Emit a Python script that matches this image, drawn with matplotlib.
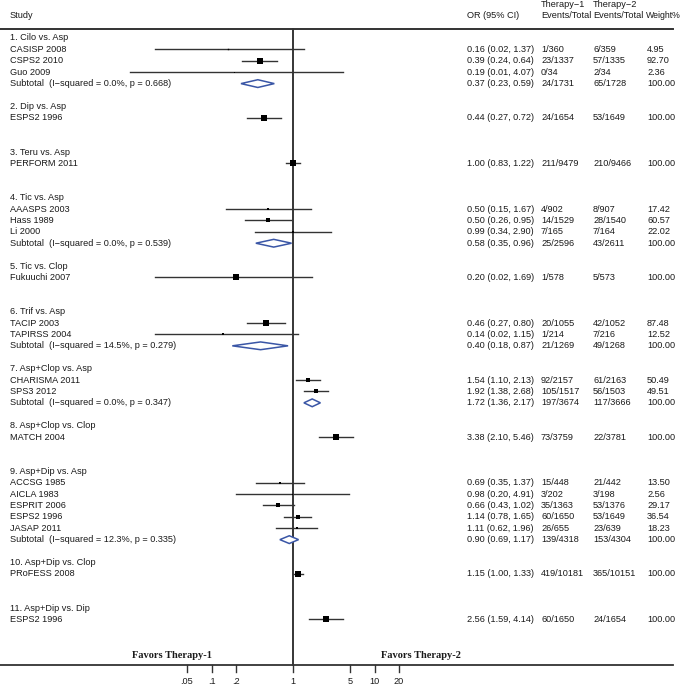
import numpy as np
import matplotlib
matplotlib.use("Agg")
import matplotlib.pyplot as plt

plt.rcParams['font.family'] = ['Liberation Sans', 'DejaVu Sans']

# ---- data ----
groups = ["1. Cilo vs. Asp", "2. Dip vs. Asp", "3. Teru vs. Asp", "4. Tic vs. Asp",
          "5. Tic vs. Clop", "6. Trif vs. Asp", "7. Asp+Clop vs. Asp",
          "8. Asp+Clop vs. Clop", "9. Asp+Dip vs. Asp", "10. Asp+Dip vs. Clop",
          "11. Asp+Dip vs. Dip"]

# study name, group index
studies = ["CASISP 2008", "CSPS2 2010", "Guo 2009",
           "ESPS2 1996",
           "PERFORM 2011",
           "AAASPS 2003", "Hass 1989", "Li 2000",
           "Fukuuchi 2007",
           "TACIP 2003", "TAPIRSS 2004",
           "CHARISMA 2011", "SPS3 2012",
           "MATCH 2004",
           "ACCSG 1985", "AICLA 1983", "ESPRIT 2006", "ESPS2 1996", "JASAP 2011",
           "PRoFESS 2008",
           "ESPS2 1996"]
study_group = [0, 0, 0, 1, 2, 3, 3, 3, 4, 5, 5, 6, 6, 7, 8, 8, 8, 8, 8, 9, 10]
or_est = [0.16, 0.39, 0.19, 0.44, 1.00, 0.50, 0.50, 0.99, 0.20, 0.46, 0.14,
          1.54, 1.92, 3.38, 0.69, 0.98, 0.66, 1.14, 1.11, 1.15, 2.56]
or_lo = [0.02, 0.24, 0.01, 0.27, 0.83, 0.15, 0.26, 0.34, 0.02, 0.27, 0.02,
         1.10, 1.38, 2.10, 0.35, 0.20, 0.43, 0.78, 0.62, 1.00, 1.59]
or_hi = [1.37, 0.64, 4.07, 0.72, 1.22, 1.67, 0.95, 2.90, 1.69, 0.80, 1.15,
         2.13, 2.68, 5.46, 1.37, 4.91, 1.02, 1.65, 1.96, 1.33, 4.14]
ev1 = ["1/360", "23/1337", "0/34", "24/1654", "211/9479", "4/902", "14/1529",
       "7/165", "1/578", "20/1055", "1/214", "92/2157", "105/1517", "73/3759",
       "15/448", "3/202", "35/1363", "60/1650", "26/655", "419/10181", "60/1650"]
ev2 = ["6/359", "57/1335", "2/34", "53/1649", "210/9466", "8/907", "28/1540",
       "7/164", "5/573", "42/1052", "7/216", "61/2163", "56/1503", "22/3781",
       "21/442", "3/198", "53/1376", "53/1649", "23/639", "365/10151", "24/1654"]
weight = [4.95, 92.70, 2.36, 100.00, 100.00, 17.42, 60.57, 22.02, 100.00,
          87.48, 12.52, 50.49, 49.51, 100.00, 13.50, 2.56, 29.17, 36.54, 18.23,
          100.00, 100.00]

# subtotals (group index)
sub_group = [0, 3, 5, 6, 8]
sub_label = ["Subtotal  (I\u2212squared = 0.0%, p = 0.668)",
             "Subtotal  (I\u2212squared = 0.0%, p = 0.539)",
             "Subtotal  (I\u2212squared = 14.5%, p = 0.279)",
             "Subtotal  (I\u2212squared = 0.0%, p = 0.347)",
             "Subtotal  (I\u2212squared = 12.3%, p = 0.335)"]
sub_est = [0.37, 0.58, 0.40, 1.72, 0.90]
sub_lo = [0.23, 0.35, 0.18, 1.36, 0.69]
sub_hi = [0.59, 0.96, 0.87, 2.17, 1.17]
sub_ev1 = ["24/1731", "25/2596", "21/1269", "197/3674", "139/4318"]
sub_ev2 = ["65/1728", "43/2611", "49/1268", "117/3666", "153/4304"]

ticks = [0.05, 0.1, 0.2, 1, 5, 10, 20]
tick_labels = [".05", ".1", ".2", "1", "5", "10", "20"]

# ---- layout helpers (pixel based) ----
W, H = 682, 685
X0, PX_DEC = 293, 81.5
def px(p):
    return 10 ** ((p - X0) / PX_DEC)

fig = plt.figure(figsize=(W / 100, H / 100), dpi=100)
ax = fig.add_axes([0, 0, 1, 1])
ax.set_xscale('log')
ax.set_xlim(px(0), px(W))
ax.set_ylim(56.75, -3.333)
ax.axis('off')

fs = 6.6
tc = '#1a1a1a'
blue = '#3a56a6'

# assign rows
row = 0
study_row, sub_row, grp_row = {}, {}, {}
for g in range(len(groups)):
    grp_row[g] = row
    row += 1
    for i, sg in enumerate(study_group):
        if sg == g:
            study_row[i] = row
            row += 1
    if g in sub_group:
        sub_row[sub_group.index(g)] = row
    row += 2

def cols(y, a, b, c, d):
    ax.text(px(467), y, a, fontsize=fs, color=tc, va='center')
    ax.text(px(541), y, b, fontsize=fs, color=tc, va='center')
    ax.text(px(593), y, c, fontsize=fs, color=tc, va='center')
    ax.text(px(647), y, d, fontsize=fs, color=tc, va='center')

for g, r in grp_row.items():
    ax.text(px(9.5), r, groups[g], fontsize=fs, color=tc, va='center')

for i, r in study_row.items():
    ax.text(px(9.5), r, studies[i], fontsize=fs, color=tc, va='center')
    ax.plot([or_lo[i], or_hi[i]], [r, r], color='#333333', lw=1.0, zorder=2)
    ms = 4.6 * np.sqrt(weight[i] / 100)
    ax.plot(or_est[i], r, marker='s', ms=ms, color='black', mew=0, zorder=3)
    cols(r, "%.2f (%.2f, %.2f)" % (or_est[i], or_lo[i], or_hi[i]),
         ev1[i], ev2[i], "%.2f" % weight[i])

for k, r in sub_row.items():
    ax.text(px(9.5), r, sub_label[k], fontsize=fs, color=tc, va='center')
    h = 0.34
    ax.fill([sub_lo[k], sub_est[k], sub_hi[k], sub_est[k]],
            [r, r - h, r, r + h], facecolor='white', edgecolor=blue,
            lw=1.1, zorder=3)
    cols(r, "%.2f (%.2f, %.2f)" % (sub_est[k], sub_lo[k], sub_hi[k]),
         sub_ev1[k], sub_ev2[k], "100.00")

# null line, header line, axis line
ax.plot([1, 1], [-0.79, 55], color='black', lw=1.1, zorder=1)
ax.plot([px(0), px(673)], [-0.79, -0.79], color='#333333', lw=1.4)
ax.plot([px(0), px(673)], [55, 55], color='#333333', lw=1.3)
for t, lab in zip(ticks, tick_labels):
    ax.plot([t, t], [55, 55.6], color='#333333', lw=1.0)
    ax.text(t, 56.45, lab, fontsize=fs, color=tc, ha='center', va='center')

# headers
ax.text(px(9.5), -2.0, "Study", fontsize=fs, color=tc, va='center')
ax.text(px(467), -2.0, "OR (95% CI)", fontsize=fs, color=tc, va='center')
ax.text(px(541), -2.9, "Therapy\u22121", fontsize=fs, color=tc, va='center')
ax.text(px(541), -2.0, "Events/Total", fontsize=fs, color=tc, va='center')
ax.text(px(593), -2.9, "Therapy\u22122", fontsize=fs, color=tc, va='center')
ax.text(px(593), -2.0, "Events/Total", fontsize=fs, color=tc, va='center')
ax.text(px(680.5), -2.0, "Weight%", fontsize=6.3, color=tc, va='center',
        ha='right')

ax.text(px(172), 54.2, "Favors Therapy-1", fontsize=7.5, fontweight='bold',
        family='Liberation Serif', color=tc, ha='center', va='center')
ax.text(px(421), 54.2, "Favors Therapy-2", fontsize=7.5, fontweight='bold',
        family='Liberation Serif', color=tc, ha='center', va='center')

fig.savefig("out.png", dpi=100)
